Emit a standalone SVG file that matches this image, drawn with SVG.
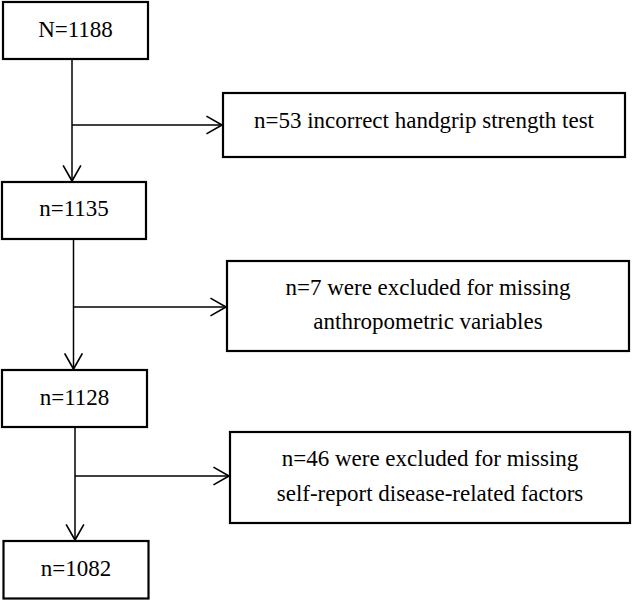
<svg xmlns="http://www.w3.org/2000/svg" width="632" height="600" viewBox="0 0 632 600">
<defs>
<style>
.box{fill:#fff;stroke:#000;stroke-width:2.2}
.t{font-size:23px;fill:#000;text-anchor:middle}
.c{fill:none;stroke:#000;stroke-width:1.5}
</style>
<marker id="ah" markerUnits="userSpaceOnUse" markerWidth="20" markerHeight="20" viewBox="-15 -9 17 18" refX="0" refY="0" orient="auto">
<path d="M-14,-8 L0,0 L-14,8" fill="none" stroke="#000" stroke-width="1.5"/>
</marker>
</defs>
<rect width="632" height="600" fill="#fff"/>
<g id="connectors">
<line class="c" x1="72" y1="59" x2="72" y2="181" marker-end="url(#ah)"/>
<line class="c" x1="72" y1="125" x2="222" y2="125" marker-end="url(#ah)"/>
<line class="c" x1="73.5" y1="239" x2="73.5" y2="369" marker-end="url(#ah)"/>
<line class="c" x1="73.5" y1="307" x2="226" y2="307" marker-end="url(#ah)"/>
<line class="c" x1="75" y1="427" x2="75" y2="540" marker-end="url(#ah)"/>
<line class="c" x1="75" y1="476" x2="229" y2="476" marker-end="url(#ah)"/>
</g>
<g font-family="'Liberation Serif', 'Times New Roman', serif">
<g id="n1188">
<rect class="box" x="3" y="2" width="145" height="57"/>
<text class="t" x="75.5" y="37">N=1188</text>
</g>
<g id="ex53">
<rect class="box" x="223" y="93" width="402" height="64"/>
<text class="t" x="424" y="128">n=53 incorrect handgrip strength test</text>
</g>
<g id="n1135">
<rect class="box" x="2" y="182" width="144" height="57"/>
<text class="t" x="74" y="216">n=1135</text>
</g>
<g id="ex7">
<rect class="box" x="227" y="261" width="402" height="90"/>
<text class="t" x="428" y="295">n=7 were excluded for missing</text>
<text class="t" x="428" y="329">anthropometric variables</text>
</g>
<g id="n1128">
<rect class="box" x="2" y="370" width="145" height="57"/>
<text class="t" x="74.5" y="405">n=1128</text>
</g>
<g id="ex46">
<rect class="box" x="230" y="432" width="400" height="91"/>
<text class="t" x="430" y="466">n=46 were excluded for missing</text>
<text class="t" x="430" y="501">self-report disease-related factors</text>
</g>
<g id="n1082">
<rect class="box" x="3.5" y="541" width="145" height="57.5"/>
<text class="t" x="76" y="576">n=1082</text>
</g>
</g>
</svg>
